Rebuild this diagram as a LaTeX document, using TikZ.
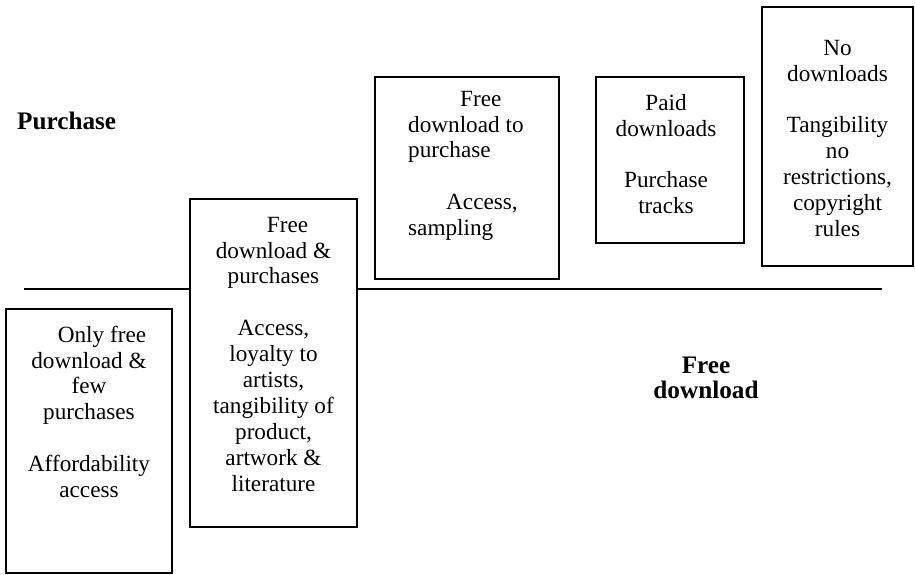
\documentclass[tikz,border=0pt]{standalone}
\usepackage{fontspec}
\setmainfont{Liberation Serif}
\begin{document}
\begin{tikzpicture}[x=1bp, y=-1bp,
  panel/.style={draw=black, line width=1.5bp, fill=white},
  divider/.style={draw=black, line width=1.5bp},
  body/.style={font=\fontsize{23.3}{26}\selectfont, inner sep=0pt, align=center, anchor=north},
  bodyleft/.style={body, align=left, anchor=north west},
  axislabel/.style={font=\fontsize{25.3}{24}\selectfont\bfseries, inner sep=0pt, align=center}]
\useasboundingbox (0,0) rectangle (915,575);

% dividing line between the two regions
\coordinate (divL) at (24,289);
\coordinate (divR) at (882,289);
\draw[divider] (divL) -- (divR);

% panels
\draw[panel] (6,309) rectangle (172,573);
\draw[panel] (190,199) rectangle (357,527);
\draw[panel] (375,77) rectangle (559,279);
\draw[panel] (596,77) rectangle (744,243);
\draw[panel] (762,7) rectangle (913,266);

% panel texts
\node[body] (t1) at (89,323.8) {\strut\hspace*{26bp}Only free\\download \&\\few\\purchases\\[26bp]Affordability\\access};
\node[body] (t2) at (273.5,213.8) {\strut\hspace*{28bp}Free\\download \&\\purchases\\[26bp]Access,\\loyalty to\\artists,\\tangibility of\\product,\\artwork \&\\literature};
\node[bodyleft] (t3) at (408,87.8) {\strut\hspace*{52bp}Free\\download to\\purchase\\[26bp]\hspace*{38bp}Access,\\sampling};
\node[body] (t4) at (666,91.8) {\strut Paid\\downloads\\[26bp]Purchase\\tracks};
\node[body] (t5) at (837.5,36.8) {\strut No\\downloads\\[26bp]Tangibility\\no\\restrictions,\\copyright\\rules};

% region labels
\node[axislabel, anchor=base west] (purchase) at (17,130) {Purchase};
\node[axislabel, anchor=north] (free) at (706,356.2) {\strut Free\\download};
\end{tikzpicture}
\end{document}
